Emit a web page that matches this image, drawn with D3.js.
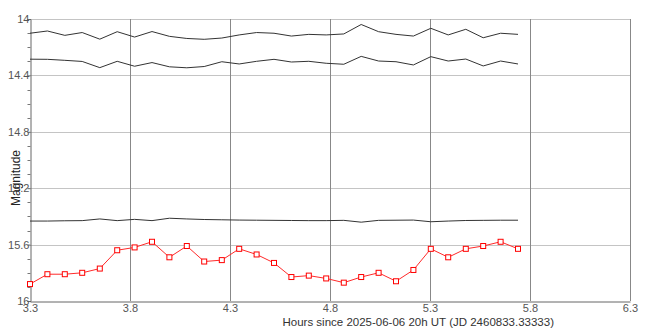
<!DOCTYPE html>
<html>
<head>
<meta charset="utf-8">
<script src="https://cdn.jsdelivr.net/npm/d3@7"></script>
<style>
  body { margin: 0; background: #fff; }
  svg { display: block; font-family: "Liberation Sans", Arial, sans-serif; }
</style>
</head>
<body>
<div id="chart"></div>
<script>
// hours since 2025-06-06 20h UT
const hours = [3.300, 3.387, 3.474, 3.561, 3.649, 3.736, 3.823, 3.910, 3.997, 4.084,
  4.171, 4.259, 4.346, 4.433, 4.520, 4.607, 4.694, 4.781, 4.869, 4.956,
  5.043, 5.130, 5.217, 5.304, 5.391, 5.479, 5.566, 5.653, 5.740];

// target star (red, with markers)
const targetMag = [15.88, 15.81, 15.81, 15.80, 15.77, 15.64, 15.62, 15.58, 15.69, 15.61,
  15.72, 15.71, 15.63, 15.67, 15.73, 15.83, 15.82, 15.84, 15.87, 15.83,
  15.80, 15.86, 15.78, 15.63, 15.69, 15.63, 15.61, 15.58, 15.63];

// comparison / check stars (black lines)
const comp1 = [14.101, 14.085, 14.116, 14.096, 14.143, 14.090, 14.128, 14.089, 14.123, 14.138,
  14.144, 14.135, 14.113, 14.096, 14.101, 14.121, 14.109, 14.113, 14.106, 14.039,
  14.090, 14.109, 14.121, 14.066, 14.113, 14.073, 14.133, 14.101, 14.109];
const comp2 = [14.285, 14.286, 14.293, 14.301, 14.345, 14.300, 14.335, 14.309, 14.339, 14.346,
  14.337, 14.303, 14.319, 14.300, 14.286, 14.305, 14.300, 14.314, 14.321, 14.265,
  14.298, 14.303, 14.326, 14.267, 14.298, 14.284, 14.333, 14.298, 14.319];
const comp3 = [15.433, 15.433, 15.431, 15.430, 15.418, 15.430, 15.421, 15.430, 15.413, 15.418,
  15.422, 15.424, 15.426, 15.427, 15.428, 15.429, 15.430, 15.430, 15.428, 15.441,
  15.428, 15.427, 15.426, 15.438, 15.433, 15.429, 15.428, 15.427, 15.427];

const xTicks = [3.3, 3.8, 4.3, 4.8, 5.3, 5.8, 6.3];
const yTicks = [14, 14.4, 14.8, 15.2, 15.6, 16];
const yMinor = [14.1, 14.2, 14.3, 14.5, 14.6, 14.7, 14.9, 15.0, 15.1, 15.3, 15.4, 15.5, 15.7, 15.8, 15.9];

const W = 661, H = 330;
const margin = {top: 19, right: 31, bottom: 29, left: 30};

const svg = d3.select("#chart").append("svg")
  .attr("width", W)
  .attr("height", H);

const x = d3.scaleLinear().domain([3.3, 6.3]).range([margin.left, W - margin.right]);
const y = d3.scaleLinear().domain([14, 16]).range([margin.top, H - margin.bottom]);

// horizontal grid
svg.append("g")
  .attr("stroke", "#c4c4c4")
  .attr("shape-rendering", "crispEdges")
  .selectAll("line")
  .data(yTicks.slice(0, -1))
  .join("line")
  .attr("x1", x(3.3)).attr("x2", x(6.3))
  .attr("y1", d => Math.round(y(d)) + 0.5).attr("y2", d => Math.round(y(d)) + 0.5);

// vertical grid
svg.append("g")
  .attr("stroke", "#888")
  .attr("shape-rendering", "crispEdges")
  .selectAll("line")
  .data(xTicks.slice(1))
  .join("line")
  .attr("x1", d => Math.round(x(d)) + 0.5).attr("x2", d => Math.round(x(d)) + 0.5)
  .attr("y1", y(14)).attr("y2", y(16));

// y axis
const yAxis = svg.append("g")
  .attr("transform", `translate(${margin.left + 0.5},0)`)
  .call(d3.axisLeft(y).tickValues(yTicks).tickSize(3).tickPadding(-2).tickFormat(d3.format("")));
yAxis.select(".domain").attr("stroke", "#666");
yAxis.selectAll(".tick line").attr("stroke", "#666");
yAxis.selectAll(".tick text").attr("fill", "#555").attr("font-size", 11)
  .attr("font-family", "Liberation Sans, Arial, sans-serif");

svg.append("g")
  .attr("stroke", "#777")
  .selectAll("line")
  .data(yMinor)
  .join("line")
  .attr("x1", margin.left - 2.5).attr("x2", margin.left + 0.5)
  .attr("y1", d => Math.round(y(d)) + 0.5).attr("y2", d => Math.round(y(d)) + 0.5);

// x axis
const xAxis = svg.append("g")
  .attr("transform", `translate(0,${Math.round(y(16)) + 0.5})`)
  .call(d3.axisBottom(x).tickValues(xTicks).tickSize(0).tickPadding(3).tickFormat(d3.format("")));
xAxis.select(".domain").attr("stroke", "#666");
xAxis.selectAll(".tick text").attr("fill", "#555").attr("font-size", 11)
  .attr("font-family", "Liberation Sans, Arial, sans-serif");

// axis titles
svg.append("text")
  .attr("transform", "translate(20,178) rotate(-90)")
  .attr("text-anchor", "middle")
  .attr("font-size", 12)
  .attr("fill", "#222")
  .text("Magnitude");

svg.append("text")
  .attr("x", 554)
  .attr("y", 326)
  .attr("text-anchor", "end")
  .attr("font-size", 11.5)
  .attr("fill", "#333")
  .text("Hours since 2025-06-06 20h UT (JD 2460833.33333)");

// comparison lines
const line = d3.line().x((d, i) => x(hours[i])).y(d => y(d));
svg.append("g")
  .selectAll("path")
  .data([comp1, comp2, comp3])
  .join("path")
  .attr("fill", "none")
  .attr("stroke", "#333")
  .attr("stroke-width", 1)
  .attr("d", line);

// target
svg.append("path")
  .datum(targetMag)
  .attr("fill", "none")
  .attr("stroke", "#ff2a2a")
  .attr("stroke-width", 1)
  .attr("d", line);

svg.append("g")
  .selectAll("rect")
  .data(targetMag)
  .join("rect")
  .attr("x", (d, i) => x(hours[i]) - 2.5)
  .attr("y", d => y(d) - 2.5)
  .attr("width", 5)
  .attr("height", 5)
  .attr("fill", "#fff")
  .attr("stroke", "#f00")
  .attr("stroke-width", 1);
</script>
</body>
</html>
